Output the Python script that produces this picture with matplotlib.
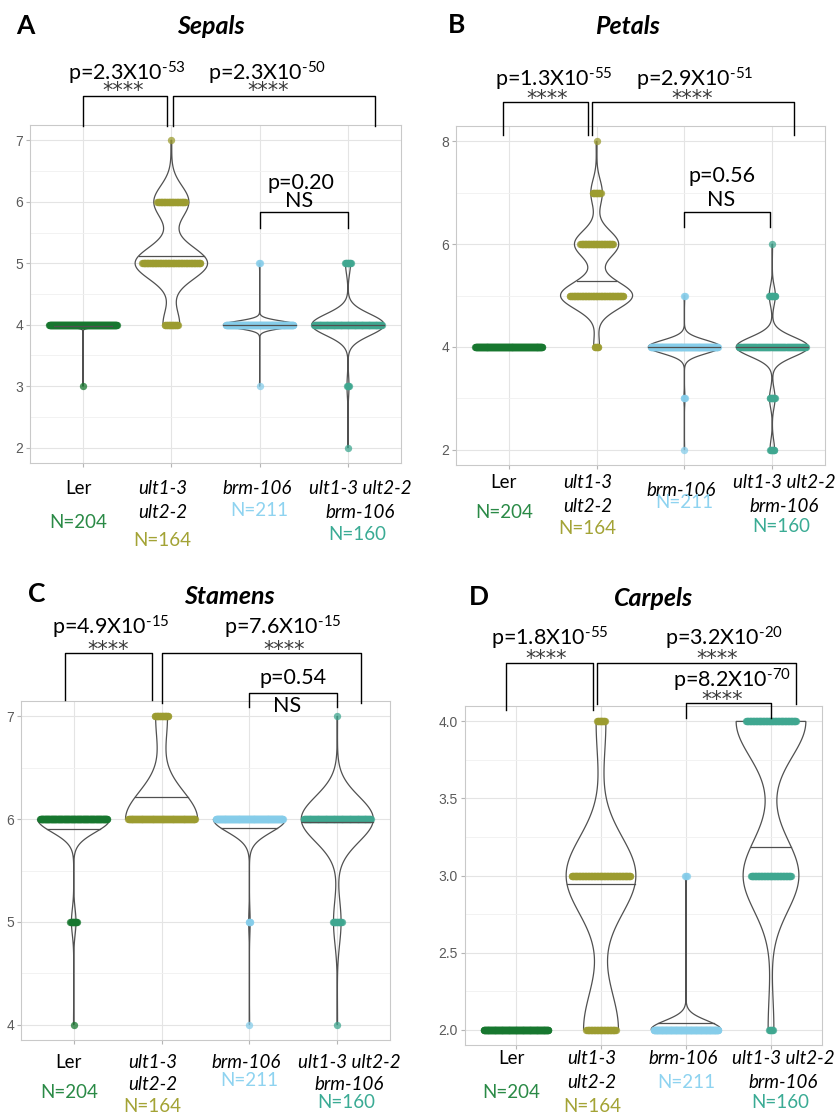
import numpy as np
import matplotlib
matplotlib.use("Agg")
import matplotlib.pyplot as plt
from matplotlib.ticker import MultipleLocator, FormatStrFormatter

plt.rcParams['font.family'] = ['Lato', 'DejaVu Sans']
plt.rcParams['mathtext.fontset'] = 'custom'
plt.rcParams['mathtext.rm'] = 'Lato'
plt.rcParams['mathtext.it'] = 'Lato:italic'
plt.rcParams['mathtext.bf'] = 'Lato:bold'

# genotypes (name lines) and sample sizes
geno_lines = [['Ler'], ['ult1-3', 'ult2-2'], ['brm-106'], ['ult1-3 ult2-2', 'brm-106']]
geno_italic = [False, True, True, True]
n_labels = ['N=204', 'N=164', 'N=211', 'N=160']
dot_colors = ['#17772f', '#9c9c30', '#86cdea', '#3fa790']
n_colors = ['#2a8a46', '#a3a335', '#8ed3f0', '#3aab94']

# organ counts: rows = genotype, columns = organ number
sepal_values = [2, 3, 4, 5, 6, 7]
sepal_counts = [[0, 1, 203, 0, 0, 0],
                [0, 0, 22, 95, 46, 1],
                [0, 1, 208, 2, 0, 0],
                [1, 4, 145, 10, 0, 0]]

petal_values = [2, 3, 4, 5, 6, 7, 8]
petal_counts = [[0, 0, 204, 0, 0, 0, 0],
                [0, 0, 7, 88, 54, 14, 1],
                [1, 3, 205, 2, 0, 0, 0],
                [8, 10, 130, 11, 1, 0, 0]]

stamen_values = [4, 5, 6, 7]
stamen_counts = [[1, 12, 191, 0],
                 [0, 0, 141, 23],
                 [1, 4, 206, 0],
                 [1, 15, 143, 1]]

carpel_values = [2, 3, 4]
carpel_counts = [[204, 0, 0],
                 [50, 100, 14],
                 [208, 3, 0],
                 [7, 68, 85]]

# violin smoothing bandwidths (None = no violin)
sepal_bw = [0.03, 0.26, 0.06, 0.175]
petal_bw = [None, 0.26, 0.13, 0.19]
stamen_bw = [0.127, 0.27, 0.127, 0.22]
carpel_bw = [None, 0.25, 0.058, 0.23]

# p-value annotations
sepal_p = ['p=2.3X10$^{\\text{-53}}$', 'p=2.3X10$^{\\text{-50}}$', 'p=0.20']
petal_p = ['p=1.3X10$^{\\text{-55}}$', 'p=2.9X10$^{\\text{-51}}$', 'p=0.56']
stamen_p = ['p=4.9X10$^{\\text{-15}}$', 'p=7.6X10$^{\\text{-15}}$', 'p=0.54']
carpel_p = ['p=1.8X10$^{\\text{-55}}$', 'p=3.2X10$^{\\text{-20}}$', 'p=8.2X10$^{\\text{-70}}$']

W, H = 837, 1117
fig = plt.figure(figsize=(W / 100, H / 100), dpi=100)


def px_axes(l, t, r, b):
    return [l / W, 1 - b / H, (r - l) / W, (b - t) / H]


def kde(values, counts, bw, npts=600):
    x = np.repeat(values, counts).astype(float)
    y = np.linspace(x.min(), x.max(), npts)
    d = np.zeros_like(y)
    for v, c in zip(values, counts):
        d += c * np.exp(-0.5 * ((y - v) / bw) ** 2)
    return y, d


def draw_panel(ax, values, counts, bws, ylo, yhi, step, minor, fmt):
    for i, cnt in enumerate(counts):
        pos = i + 1
        if bws[i] is not None:
            y, d = kde(values, cnt, bws[i])
            half = 0.41 * d / d.max()
            xs = np.concatenate([pos - half, (pos + half)[::-1]])
            ys = np.concatenate([y, y[::-1]])
            ax.fill(xs, ys, facecolor='none', edgecolor='#505050', lw=0.9, zorder=2)
            cdf = np.concatenate([[0], np.cumsum((d[1:] + d[:-1]) / 2 * np.diff(y))])
            ym = np.interp(0.5, cdf / cdf[-1], y)
            hw = np.interp(ym, y, half)
            ax.plot([pos - hw, pos + hw], [ym, ym], color='#505050', lw=0.9, zorder=4)
        for v, c in zip(values, cnt):
            if c == 0:
                continue
            span = min(0.007 * (c - 1), 0.76)
            offs = np.array([0.0]) if c == 1 else np.linspace(-span / 2, span / 2, c)
            ax.scatter(pos + offs, np.full(c, v), s=28, color=dot_colors[i],
                       alpha=0.75, linewidths=0, zorder=3)
    rng = yhi - ylo
    ax.set_ylim(ylo - 0.05 * rng, yhi + 0.05 * rng)
    ax.set_xlim(0.4, 4.6)
    ax.set_xticks([1, 2, 3, 4])
    ax.set_xticklabels([])
    ax.yaxis.set_major_locator(MultipleLocator(step))
    ax.yaxis.set_minor_locator(MultipleLocator(minor))
    ax.yaxis.set_major_formatter(FormatStrFormatter(fmt))
    ax.grid(which='major', color='#e4e4e4', lw=0.8)
    ax.grid(which='minor', axis='y', color='#f0f0f0', lw=0.6)
    ax.set_axisbelow(True)
    ax.tick_params(which='major', length=3, color='#b5b5b5', labelsize=10,
                   labelcolor='#5a5a5a', pad=2)
    ax.tick_params(which='minor', length=0)
    for lab in ax.get_yticklabels():
        lab.set_family('Liberation Sans')
    for s in ax.spines.values():
        s.set_color('#c9c9c9')
        s.set_linewidth(0.8)


def bracket(ax, x1, x2, top, leg1, leg2):
    ax.plot([x1, x1, x2, x2], [leg1, top, top, leg2], color='black', lw=1.0,
            clip_on=False, zorder=5)


def ptext(ax, x, y, s, size=15.5):
    ax.text(x, y, s, ha='center', va='baseline', fontsize=size, color='black',
            clip_on=False)


def stars(ax, x, y):
    ax.text(x, y, '****', ha='center', va='baseline', fontsize=15,
            family='DejaVu Sans', color='#3a3a3a', clip_on=False)


def xlabels(ax, offs):
    dxs = [-5, -9, -3, 12]
    ndx = [-5, -9, 0, 9]
    for i in range(4):
        for j, line in enumerate(geno_lines[i]):
            ax.annotate(line, xy=(i + 1, 0), xycoords=('data', 'axes fraction'),
                        xytext=(dxs[i], -offs[i][j]), textcoords='offset pixels',
                        ha='center', va='center', fontsize=13.5,
                        style='italic' if geno_italic[i] else 'normal',
                        color='black', annotation_clip=False)
        ax.annotate(n_labels[i], xy=(i + 1, 0), xycoords=('data', 'axes fraction'),
                    xytext=(ndx[i], -offs[i][-1]), textcoords='offset pixels',
                    ha='center', va='center', fontsize=13.5, color=n_colors[i],
                    annotation_clip=False)


def header(letter, lx, ly, title, tx, ty):
    fig.text(lx / W, 1 - ly / H, letter, fontsize=19, fontweight='bold',
             ha='center', va='center')
    fig.text(tx / W, 1 - ty / H, title, fontsize=18, fontweight='bold',
             style='italic', ha='center', va='center')


# Panel A - Sepals
axA = fig.add_axes(px_axes(30, 125, 401, 463))
draw_panel(axA, sepal_values, sepal_counts, sepal_bw, 2, 7, 1, 0.5, '%d')
bracket(axA, 1.0, 1.95, 7.72, 7.23, 7.23)
bracket(axA, 2.02, 4.3, 7.72, 7.23, 7.23)
bracket(axA, 3.0, 4.0, 5.83, 5.58, 5.58)
ptext(axA, 1.5, 7.97, sepal_p[0])
stars(axA, 1.45, 7.70)
ptext(axA, 3.08, 7.97, sepal_p[1])
stars(axA, 3.1, 7.70)
ptext(axA, 3.47, 6.21, sepal_p[2])
ptext(axA, 3.45, 5.92, 'NS')
xlabels(axA, [[26, 59], [26, 49, 77], [26, 48], [26, 50, 71]])
header('A', 25, 26, 'Sepals', 211, 26)

# Panel B - Petals
axB = fig.add_axes(px_axes(456, 126, 825, 465))
draw_panel(axB, petal_values, petal_counts, petal_bw, 2, 8, 2, 1, '%d')
bracket(axB, 0.94, 1.9, 8.77, 8.13, 8.13)
bracket(axB, 1.95, 4.25, 8.77, 8.13, 8.13)
bracket(axB, 3.0, 3.97, 6.63, 6.34, 6.34)
ptext(axB, 1.51, 9.06, petal_p[0])
stars(axB, 1.44, 8.70)
ptext(axB, 3.12, 9.06, petal_p[1])
stars(axB, 3.09, 8.70)
ptext(axB, 3.43, 7.2, petal_p[2])
ptext(axB, 3.42, 6.75, 'NS')
xlabels(axB, [[17, 48], [17, 41, 64], [25, 38], [17, 41, 61]])
header('B', 457, 25, 'Petals', 627, 26)

# Panel C - Stamens
axC = fig.add_axes(px_axes(21, 701, 390, 1040))
draw_panel(axC, stamen_values, stamen_counts, stamen_bw, 4, 7, 1, 0.5, '%d')
bracket(axC, 0.9, 1.89, 7.62, 7.16, 7.16)
bracket(axC, 2.0, 4.27, 7.62, 7.13, 7.13)
bracket(axC, 3.0, 4.0, 7.23, 7.09, 7.09)
ptext(axC, 1.42, 7.80, stamen_p[0])
stars(axC, 1.39, 7.59)
ptext(axC, 3.38, 7.80, stamen_p[1])
stars(axC, 3.39, 7.59)
ptext(axC, 3.5, 7.32, stamen_p[2])
ptext(axC, 3.43, 7.04, 'NS')
xlabels(axC, [[22, 53], [22, 45, 67], [22, 40], [22, 45, 63]])
header('C', 37, 594, 'Stamens', 229, 596)

# Panel D - Carpels
axD = fig.add_axes(px_axes(465, 706, 822, 1045))
draw_panel(axD, carpel_values, carpel_counts, carpel_bw, 2, 4, 0.5, 0.25, '%.1f')
bracket(axD, 0.88, 1.9, 4.38, 4.076, 4.076)
bracket(axD, 1.95, 4.29, 4.38, 4.115, 4.115)
bracket(axD, 3.0, 4.0, 4.12, 4.02, 4.02)
ptext(axD, 1.4, 4.49, carpel_p[0])
stars(axD, 1.36, 4.365)
ptext(axD, 3.45, 4.49, carpel_p[1])
stars(axD, 3.37, 4.365)
ptext(axD, 3.54, 4.22, carpel_p[2])
stars(axD, 3.43, 4.10)
xlabels(axD, [[14, 48], [14, 38, 61], [14, 37], [14, 38, 58]])
header('D', 479, 597, 'Carpels', 654, 598)

fig.savefig('out.png', dpi=100)
